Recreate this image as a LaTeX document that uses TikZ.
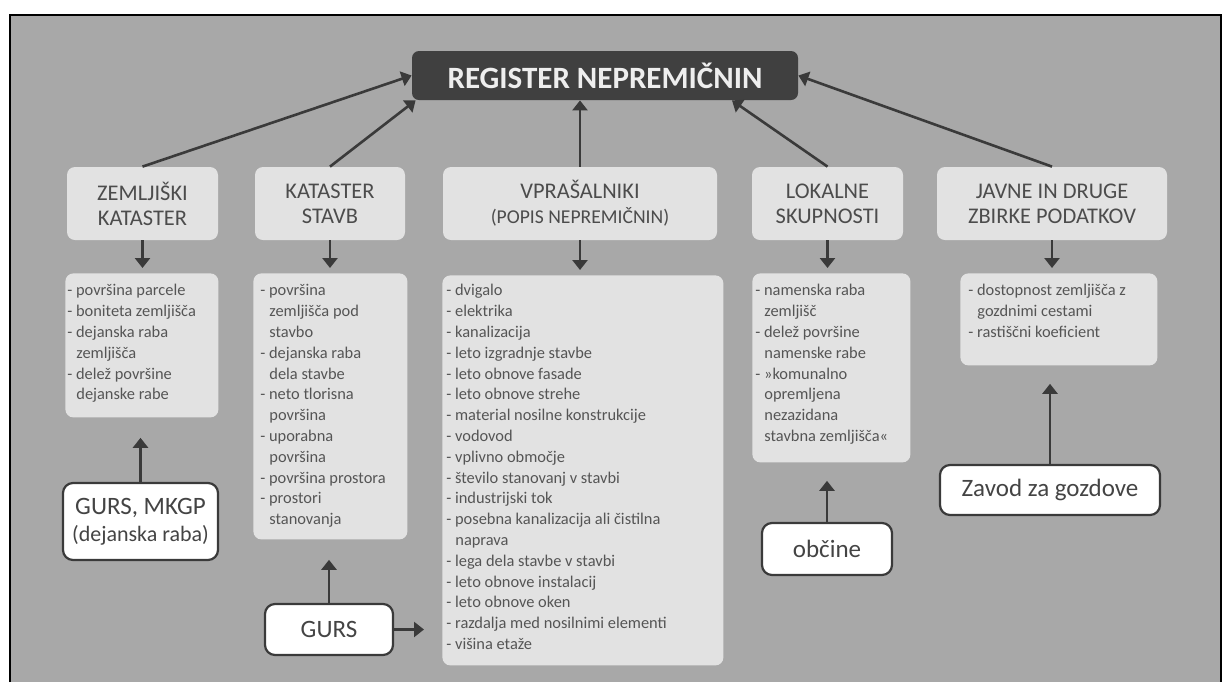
\documentclass[tikz,border=0pt]{standalone}
\usepackage{fontspec}
\setmainfont{Carlito}
\usetikzlibrary{arrows.meta,calc}
\definecolor{regground}{HTML}{A8A8A8}
\definecolor{regdark}{HTML}{404040}
\definecolor{regtitle}{HTML}{EEEEEE}
\definecolor{reglight}{HTML}{E2E2E2}
\definecolor{reghead}{HTML}{4C4C4C}
\definecolor{reglist}{HTML}{555555}
\definecolor{regline}{HTML}{3A3A3A}
\definecolor{regsource}{HTML}{444444}
\newcommand{\ind}{\hspace*{0.55em}}
\tikzset{
  titlebox/.style={fill=regdark, rounded corners=3.5pt, text=regtitle,
    font=\fontsize{15.5}{17}\selectfont\bfseries, inner sep=0pt,
    minimum width=193pt, minimum height=24.5pt},
  headbox/.style={fill=reglight, rounded corners=4pt, text=reghead,
    align=center, font=\fontsize{11.2}{12.5}\selectfont, inner sep=0pt,
    minimum height=36.5pt},
  listbox/.style={fill=reglight, rounded corners=4pt, inner sep=0pt,
    anchor=north west},
  listtext/.style={anchor=north west, align=left, text=reglist,
    font=\fontsize{8.2}{10.4}\selectfont, inner sep=0pt},
  sourcebox/.style={draw=regline, fill=white, line width=1.1pt,
    rounded corners=5pt, text=regsource, align=center,
    font=\fontsize{12.5}{13.5}\selectfont, inner sep=0pt},
  flow/.style={-{Triangle[length=5pt,width=7.5pt]}, draw=regline,
    line width=1.3pt}
}

\begin{document}
\begin{tikzpicture}[x=0.5pt,y=-0.5pt]
  \useasboundingbox (0,0) rectangle (1222,682);
  \fill[regground] (10,15) rectangle (1222,682);
  \draw[black, line width=0.8pt] (10,682) -- (10,15) -- (1221,15) -- (1221,682);

  % register on top
  \node[titlebox] (reg) at (605,75.5) {REGISTER NEPREMIČNIN};

  % data sources
  \node[headbox, minimum width=75.5pt] (zk) at (142.5,203.5) {ZEMLJIŠKI\\KATASTER};
  \node[headbox, minimum width=75pt] (ks) at (330,203.5) {KATASTER\\STAVB};
  \node[headbox, minimum width=137pt] (vp) at (580,203.5)
    {VPRAŠALNIKI\\{\fontsize{9.8}{12.5}\selectfont (POPIS NEPREMIČNIN)}};
  \node[headbox, minimum width=75.5pt] (ls) at (827.5,203.5) {LOKALNE\\SKUPNOSTI};
  \node[headbox, minimum width=115pt] (jz) at (1052,203.5) {JAVNE IN DRUGE\\ZBIRKE PODATKOV};

  \draw[flow] (zk.north) -- (reg.west);
  \draw[flow] (ks.north) -- ([xshift=2pt]reg.south west);
  \draw[flow] (vp.north) -- (vp.north |- reg.south);
  \draw[flow] (ls.north) -- ($(reg.south)+(127,0)$);
  \draw[flow] (jz.north) -- (reg.east);

  % attribute lists
  \node[listbox, minimum width=76.5pt, minimum height=72pt] (zl) at (65,273) {};
  \node[listbox, minimum width=77pt, minimum height=133pt] (kl) at (253,273) {};
  \node[listbox, minimum width=140.5pt, minimum height=195pt] (vl) at (442,275) {};
  \node[listbox, minimum width=79pt, minimum height=94.5pt] (ll) at (752,273) {};
  \node[listbox, minimum width=98.5pt, minimum height=46pt] (jl) at (960,273) {};

  \node[listtext] (zt) at ([xshift=1pt,yshift=-4pt]zl.north west)
    {\strut- površina parcele\\- boniteta zemljišča\\- dejanska raba\\\ind zemljišča\\
     - delež površine\\\ind dejanske rabe};
  \node[listtext] (kt) at ([xshift=3.5pt,yshift=-4pt]kl.north west)
    {\strut- površina\\\ind zemljišča pod\\\ind stavbo\\- dejanska raba\\\ind dela stavbe\\
     - neto tlorisna\\\ind površina\\- uporabna\\\ind površina\\- površina prostora\\
     - prostori\\\ind stanovanja};
  \node[listtext] (vt) at ([xshift=2pt,yshift=-3pt]vl.north west)
    {\strut- dvigalo\\- elektrika\\- kanalizacija\\- leto izgradnje stavbe\\
     - leto obnove fasade\\- leto obnove strehe\\- material nosilne konstrukcije\\
     - vodovod\\- vplivno območje\\- število stanovanj v stavbi\\- industrijski tok\\
     - posebna kanalizacija ali čistilna\\\ind naprava\\- lega dela stavbe v stavbi\\
     - leto obnove instalacij\\- leto obnove oken\\- razdalja med nosilnimi elementi\\
     - višina etaže};
  \node[listtext] (lt) at ([xshift=1.5pt,yshift=-4pt]ll.north west)
    {\strut- namenska raba\\\ind zemljišč\\- delež površine\\\ind namenske rabe\\
     - »komunalno\\\ind opremljena\\\ind nezazidana\\\ind stavbna zemljišča«};
  \node[listtext] (jt) at ([xshift=4pt,yshift=-4pt]jl.north west)
    {\strut- dostopnost zemljišča z\\\ind gozdnimi cestami\\- rastiščni koeficient};

  \foreach \h/\l in {zk/zl, ks/kl, vp/vl, ls/ll, jz/jl}
    \draw[flow, shorten >=2.5pt] (\h.south) -- (\h.south |- \l.north);

  % providers
  \node[sourcebox, minimum width=77.5pt, minimum height=38.5pt] (gm) at (140.5,521.5)
    {GURS, MKGP\\{\fontsize{11}{13.5}\selectfont (dejanska raba)}};
  \node[sourcebox, minimum width=64pt, minimum height=25.5pt] (gu) at (329,629.5) {GURS};
  \node[sourcebox, minimum width=65pt, minimum height=26pt] (ob) at (827,549) {občine};
  \node[sourcebox, minimum width=110pt, minimum height=25pt] (zg) at (1050,490) {Zavod za gozdove};

  \draw[flow, shorten >=10pt] (gm.north) -- (gm.north |- zl.south);
  \draw[flow, shorten >=10pt] (gu.north) -- (gu.north |- kl.south);
  \draw[flow, shorten >=9pt] (gu.east) -- (gu.east -| vl.west);
  \draw[flow, shorten >=9pt] (ob.north) -- (ob.north |- ll.south);
  \draw[flow, shorten >=9pt] (zg.north) -- (zg.north |- jl.south);
\end{tikzpicture}
\end{document}
